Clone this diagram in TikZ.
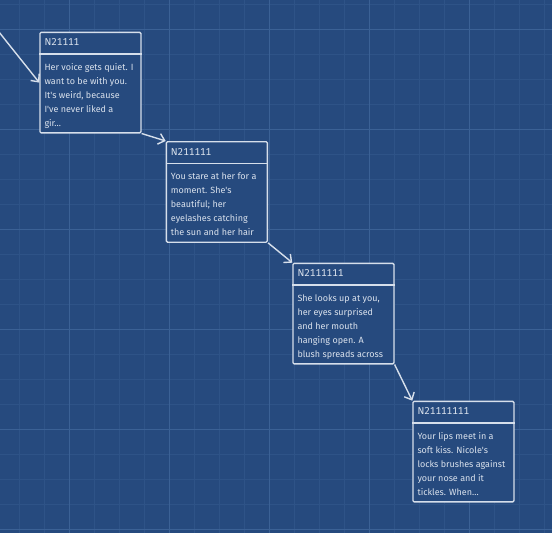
\documentclass[tikz,border=0pt]{standalone}
\usepackage{fontspec}
\setmainfont{Fira Sans}
\newfontfamily\headfont[Numbers={Lining,Monospaced}]{Fira Sans}
\usetikzlibrary{arrows.meta}
\definecolor{bg}{RGB}{38,74,126}
\definecolor{minorgrid}{RGB}{46,83,135}
\definecolor{majorgrid}{RGB}{59,97,149}
\definecolor{cardline}{RGB}{214,223,235}
\definecolor{cardtext}{RGB}{218,226,237}
\tikzset{
  cardbox/.style={draw=cardline, fill=bg, line width=1.3pt, rounded corners=1.2pt,
    minimum width=101pt, minimum height=100.5pt, inner sep=0pt, anchor=north west},
  cardhead/.style={anchor=base west, inner sep=0pt, text=cardtext, font=\headfont\fontsize{10}{12}\selectfont},
  cardbody/.style={anchor=base west, inner sep=0pt, text=cardtext},
  conn/.style={draw=cardline, line width=1.4pt, -{Straight Barb[length=6pt,width=11pt,line width=1.4pt]}},
}
\newcommand\storycard[5]{%
  \node[cardbox] (#1) at (#2,#3) {};
  \draw[draw=cardline, line width=1.3pt] ([yshift=-22.3pt]#1.north west) -- ([yshift=-22.3pt]#1.north east);
  \node[cardhead] (#1-h) at ([xshift=5pt,yshift=-14.2pt]#1.north west) {#4};
  \node[cardbody] (#1-b) at ([xshift=5pt,yshift=-38.3pt]#1.north west)
    {\parbox[t]{96pt}{\fontsize{9}{14}\selectfont\raggedright #5}};
}
\begin{document}
\begin{tikzpicture}[x=1pt,y=-1pt]
\useasboundingbox (0,0) rectangle (552,533);
\clip (0,0) rectangle (552,533);
\fill[bg] (0,0) rectangle (552,533);
\foreach \k in {0,...,22} {
  \draw[minorgrid, line width=0.8pt] ({19.3+25*\k},0) -- ({19.3+25*\k},533);
  \draw[minorgrid, line width=0.8pt] (0,{4.3+25*\k}) -- (552,{4.3+25*\k});
}
\foreach \k in {0,...,5} {
  \draw[majorgrid, line width=0.9pt] ({69.3+100*\k},0) -- ({69.3+100*\k},533);
  \draw[majorgrid, line width=0.9pt] (0,{29.3+100*\k}) -- (552,{29.3+100*\k});
}
\storycard{n1}{39.3}{31.7}{N21111}{Her voice gets quiet. I\\want to be with you.\\It\textquotesingle s weird, because\\I\textquotesingle ve never liked a\\gir…}
\storycard{n2}{165.7}{141}{N211111}{You stare at her for a\\moment. She\textquotesingle s\\beautiful; her\\eyelashes catching\\the sun and her hair}
\storycard{n3}{292.3}{262.7}{N2111111}{She looks up at you,\\her eyes surprised\\and her mouth\\hanging open. A\\blush spreads across}
\storycard{n4}{412.3}{400.7}{N21111111}{Your lips meet in a\\soft kiss. Nicole\textquotesingle s\\locks brushes against\\your nose and it\\tickles. When…}
\coordinate (in) at (-20,8.2);
\draw[conn] (in) -- (n1.west);
\draw[conn] (n1.south east) -- (n2.north west);
\draw[conn] (n2.south east) -- (n3.north west);
\draw[conn] (n3.south east) -- (n4.north west);
\end{tikzpicture}
\end{document}
